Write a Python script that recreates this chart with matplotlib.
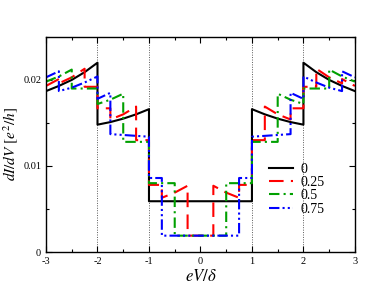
import matplotlib
matplotlib.use('Agg')
import matplotlib.pyplot as plt
from matplotlib.ticker import MultipleLocator

plt.rcParams['font.family'] = ['Liberation Serif', 'DejaVu Serif']
plt.rcParams['mathtext.fontset'] = 'stix'

# 曲線データ
labels = ['0', '0.25', '0.5', '0.75']

x_0 = [-3, -2.75, -2.5, -2.25, -2, -2, -1.75, -1.5, -1.25, -1, -1,
       1, 1, 1.25, 1.5, 1.75, 2, 2, 2.25, 2.5, 2.75, 3]
y_0 = [0.0187, 0.0193, 0.0200, 0.0209, 0.0220, 0.0148, 0.0151, 0.0155, 0.0160, 0.0166, 0.0059,
       0.0059, 0.0166, 0.0160, 0.0155, 0.0151, 0.0148, 0.0220, 0.0209, 0.0200, 0.0193, 0.0187]

x_25 = [-3, -2.75, -2.75, -2.5, -2.25, -2.25, -2, -2, -1.75, -1.75, -1.5, -1.25, -1.25, -1, -1,
        -0.75, -0.75, -0.5, -0.25, -0.25, 0.25, 0.25, 0.5, 0.75, 0.75, 1, 1,
        1.25, 1.25, 1.5, 1.75, 1.75, 2, 2, 2.25, 2.25, 2.5, 2.75, 2.75, 3]
y_25 = [0.0193, 0.0201, 0.0196, 0.0203, 0.0213, 0.0192, 0.0192, 0.0167, 0.0167, 0.0154, 0.0160, 0.0169, 0.0130, 0.0130, 0.0078,
        0.0078, 0.0063, 0.0069, 0.0077, 0.0019, 0.0019, 0.0077, 0.0069, 0.0063, 0.0078, 0.0078, 0.0130,
        0.0130, 0.0169, 0.0160, 0.0154, 0.0167, 0.0167, 0.0192, 0.0192, 0.0213, 0.0203, 0.0196, 0.0201, 0.0193]

x_50 = [-3, -2.75, -2.5, -2.5, -2, -2, -1.75, -1.5, -1.5, -1, -1, -0.5, -0.5,
        0.5, 0.5, 1, 1, 1.5, 1.5, 1.75, 2, 2, 2.5, 2.5, 2.75, 3]
y_50 = [0.0198, 0.0204, 0.0212, 0.0190, 0.0190, 0.0172, 0.0177, 0.0184, 0.0128, 0.0128, 0.0080, 0.0080, 0.0019,
        0.0019, 0.0080, 0.0080, 0.0128, 0.0128, 0.0184, 0.0177, 0.0172, 0.0190, 0.0190, 0.0212, 0.0204, 0.0198]

x_75 = [-3, -2.75, -2.75, -2.5, -2.25, -2, -2, -1.75, -1.75, -1, -1, -0.75, -0.75,
        0.75, 0.75, 1, 1, 1.75, 1.75, 2, 2, 2.25, 2.5, 2.75, 2.75, 3]
y_75 = [0.0203, 0.0210, 0.0187, 0.0191, 0.0197, 0.0204, 0.0178, 0.0185, 0.0137, 0.0134, 0.0086, 0.0086, 0.0019,
        0.0019, 0.0086, 0.0086, 0.0134, 0.0137, 0.0185, 0.0178, 0.0204, 0.0197, 0.0191, 0.0187, 0.0210, 0.0203]

guide_x = [-2, -1, 1, 2]

fig = plt.figure(figsize=(3.74, 3.0), dpi=100)
ax = fig.add_axes([0.123, 0.16, 0.826, 0.717])

for gx in guide_x:
    ax.axvline(gx, color='0.35', lw=0.7, ls=(0, (1, 1.5)), zorder=1)

ax.plot(x_0, y_0, color='black', lw=1.5, ls='-', label=labels[0])
ax.plot(x_25, y_25, color='#ff0000', lw=1.5, ls=(0, (7, 3.5)), label=labels[1])
ax.plot(x_50, y_50, color='#00a000', lw=1.5, ls=(0, (5, 2, 1, 2)), label=labels[2])
ax.plot(x_75, y_75, color='#0000ff', lw=1.5, ls=(0, (5, 1.5, 1, 1.5, 1, 1.5)), label=labels[3])

ax.set_xlim(-3, 3)
ax.set_ylim(0, 0.025)
ax.xaxis.set_major_locator(MultipleLocator(1))
ax.xaxis.set_minor_locator(MultipleLocator(0.5))
ax.yaxis.set_major_locator(MultipleLocator(0.01))
ax.yaxis.set_minor_locator(MultipleLocator(0.005))
ax.set_yticks([0, 0.01, 0.02])
ax.set_yticklabels(['0', '0.01', '0.02'])
ax.set_xticks([-3, -2, -1, 0, 1, 2, 3])
ax.set_xticklabels(['-3', '-2', '-1', '0', '1', '2', '3'])
ax.tick_params(which='both', direction='in', top=True, right=True, labelsize=7.5)
ax.tick_params(which='major', length=4, width=0.8)
ax.tick_params(which='minor', length=2.5, width=0.8)
for sp in ax.spines.values():
    sp.set_linewidth(1.0)

ax.set_xlabel(r'$eV/\delta$', fontsize=12, labelpad=2)
ax.set_ylabel(r'$dI/dV\ [e^2/h]$', fontsize=11, labelpad=2)

ax.legend(loc='upper left', bbox_to_anchor=(0.69, 0.46), frameon=False,
          fontsize=10, handlelength=1.75, labelspacing=0.02, handletextpad=0.5,
          borderpad=0.2)

fig.savefig('out.png', dpi=100)
